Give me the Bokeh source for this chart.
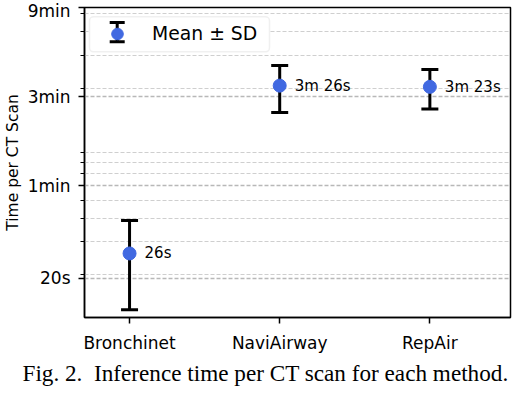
from bokeh.plotting import figure
from bokeh.models import (ColumnDataSource, Range1d, FixedTicker, Whisker, TeeHead,
                          Legend, LegendItem, Title, BoxAnnotation)
from bokeh.core.properties import value
from bokeh.embed import file_html
from bokeh.resources import INLINE

# ---- data (seconds) ----
methods = ["Bronchinet", "NaviAirway", "RepAir"]
mean_s = [26, 206, 203]
sd_s = [13, 58, 48.5]
y_tick_values = [19.2, 60, 180, 540]
y_tick_labels = ["20s", "1min", "3min", "9min"]
y_minor_ticks = [20, 30, 40, 50, 70, 80, 90, 200, 300, 400, 500]
legend_label = "Mean ± SD"
y_label = "Time per CT Scan"
caption = "Fig. 2.\u00a0 Inference time per CT scan for each method."


def fmt(sec):
    sec = int(round(sec))
    m, r = divmod(sec, 60)
    return f"{m}m {r}s" if m else f"{r}s"


xs = list(range(len(methods)))
src = ColumnDataSource(dict(
    x=xs,
    mean=mean_s,
    upper=[m + s for m, s in zip(mean_s, sd_s)],
    lower=[m - s for m, s in zip(mean_s, sd_s)],
    label=[fmt(m) for m in mean_s],
))

FONT = "DejaVu Sans"
BLUE = "#4169E1"

p = figure(frame_width=426, frame_height=310, y_axis_type="log",
           x_range=Range1d(-0.3, 2.537), y_range=Range1d(11.8, 540),
           output_backend="svg", toolbar_location=None,
           min_border_left=76, min_border_right=2, min_border_top=7,
           min_border_bottom=0)
p.background_fill_color = "white"
p.border_fill_color = "white"
p.outline_line_color = "black"
p.outline_line_width = 1.5

# x axis
p.xaxis.ticker = FixedTicker(ticks=xs)
p.xaxis.major_label_overrides = {i: m for i, m in zip(xs, methods)}
p.xaxis.major_label_text_font = FONT
p.xaxis.major_label_text_font_size = "17px"
p.xaxis.major_label_text_color = "black"
p.xaxis.major_tick_out = 6
p.xaxis.major_tick_in = 0
p.xaxis.major_tick_line_width = 1.5
p.xaxis.minor_tick_line_color = None
p.xaxis.axis_line_width = 1.5
p.xaxis.major_label_standoff = 9
p.xgrid.grid_line_color = None

# y axis
yt = FixedTicker(ticks=y_tick_values, minor_ticks=y_minor_ticks)
p.yaxis.ticker = yt
p.ygrid.ticker = yt
p.yaxis.major_label_overrides = {v: l for v, l in zip(y_tick_values, y_tick_labels)}
p.yaxis.major_label_text_font = FONT
p.yaxis.major_label_text_font_size = "17px"
p.yaxis.major_label_text_color = "black"
p.yaxis.major_tick_out = 6
p.yaxis.major_tick_in = 0
p.yaxis.major_tick_line_width = 1.5
p.yaxis.minor_tick_out = 4
p.yaxis.minor_tick_in = 0
p.yaxis.minor_tick_line_width = 1
p.yaxis.axis_line_width = 1.5
p.yaxis.major_label_standoff = 8
p.yaxis.axis_label = y_label
p.yaxis.axis_label_text_font = FONT
p.yaxis.axis_label_text_font_size = "15.5px"
p.yaxis.axis_label_text_font_style = "normal"
p.yaxis.axis_label_text_color = "black"
p.yaxis.axis_label_standoff = 3

p.ygrid.grid_line_color = "#b8b8b8"
p.ygrid.grid_line_width = 1.3
p.ygrid.grid_line_dash = "4 2"
p.ygrid.minor_grid_line_color = "#cfcfcf"
p.ygrid.minor_grid_line_width = 1
p.ygrid.minor_grid_line_dash = "4 2"

# error bars
wh = Whisker(source=src, base="x", upper="upper", lower="lower", dimension="height",
             line_color="black", line_width=3,
             upper_head=TeeHead(size=17, line_width=3, line_color="black"),
             lower_head=TeeHead(size=17, line_width=3, line_color="black"))
p.add_layout(wh)

dots = p.scatter("x", "mean", source=src, size=13, fill_color=BLUE, line_color=BLUE)

p.text(x="x", y="mean", text="label", source=src, x_offset=15,
       text_baseline="middle", text_align="left", text_font_size="15px",
       text_font=value(FONT), text_color="black")

# legend frame (white box with light grey rounded border)
box = BoxAnnotation(left=5, right=185, bottom=265.7, top=300.7,
                    left_units="screen", right_units="screen",
                    bottom_units="screen", top_units="screen",
                    fill_color="white", fill_alpha=1.0,
                    line_color="#cccccc", line_width=1.5, border_radius=4,
                    level="underlay")
p.add_layout(box)

# error-bar symbol of the legend
lsrc = ColumnDataSource(dict(i=[0]))
lwh = Whisker(source=lsrc, base=32.7, upper=295, lower=275.7,
              base_units="screen", upper_units="screen", lower_units="screen",
              dimension="height", level="annotation", line_color="black", line_width=3,
              upper_head=TeeHead(size=15, line_width=3, line_color="black"),
              lower_head=TeeHead(size=15, line_width=3, line_color="black"))
p.add_layout(lwh)

leg = Legend(items=[LegendItem(label=legend_label, renderers=[dots])],
             location=(5, 266), margin=0, padding=3, glyph_width=50, glyph_height=29,
             label_standoff=10, label_width=114, label_height=29,
             label_text_font=FONT, label_text_font_size="18.8px",
             label_text_color="black",
             border_line_alpha=0, background_fill_alpha=0)
p.add_layout(leg, "center")

# caption below the chart
t = Title(text=caption, align="left", offset=-62, text_font="Liberation Serif",
          text_font_size="23.2px", text_font_style="normal", text_color="black",
          standoff=4)
p.add_layout(t, "below")

open("out.html", "w").write(file_html(p, INLINE))
